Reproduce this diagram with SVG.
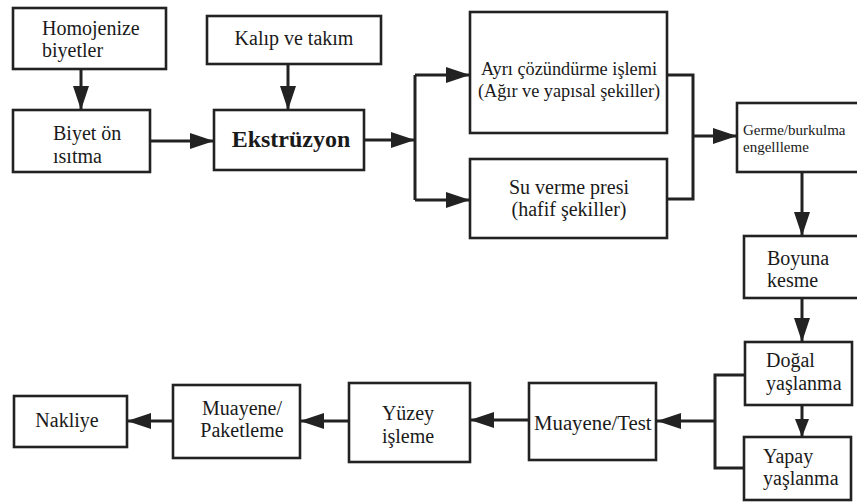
<svg xmlns="http://www.w3.org/2000/svg" width="857" height="502" viewBox="0 0 857 502">
  <style>
    .box { fill: #ffffff; stroke: #222222; stroke-width: 2.6; }
    .line { fill: none; stroke: #222222; stroke-width: 3; }
    .t { font-family: "Liberation Serif", "Times New Roman", serif; font-size: 20px; fill: #1a1a1a; }
    .c { text-anchor: middle; }
    .b { font-weight: bold; font-size: 24px; }
    .s { font-size: 15px; }
  </style>
  <defs>
    <marker id="arrow" viewBox="0 0 24 16" refX="24" refY="8" markerWidth="24" markerHeight="16" markerUnits="userSpaceOnUse" orient="auto">
      <path d="M0,0 L24,8 L0,16 Z" fill="#222222"/>
    </marker>
    <marker id="arrowSmall" viewBox="0 0 18 14" refX="18" refY="7" markerWidth="18" markerHeight="14" markerUnits="userSpaceOnUse" orient="auto">
      <path d="M0,0 L18,7 L0,14 Z" fill="#222222"/>
    </marker>
  </defs>

  <rect width="857" height="502" fill="#ffffff"/>

  <!-- connectors -->
  <g id="connectors">
    <line class="line" x1="81" y1="69" x2="81" y2="110" marker-end="url(#arrow)"/>
    <line class="line" x1="288" y1="64" x2="288" y2="110" marker-end="url(#arrow)"/>
    <line class="line" x1="150" y1="141" x2="214" y2="141" marker-end="url(#arrow)"/>
    <line class="line" x1="364" y1="140" x2="415" y2="140" marker-end="url(#arrow)"/>
    <line class="line" x1="415" y1="75" x2="415" y2="200"/>
    <line class="line" x1="415" y1="75" x2="470" y2="75" marker-end="url(#arrow)"/>
    <line class="line" x1="415" y1="200" x2="470" y2="200" marker-end="url(#arrow)"/>
    <polyline class="line" points="667,75 693,75 693,199 667,199"/>
    <line class="line" x1="693" y1="136" x2="737" y2="136" marker-end="url(#arrow)"/>
    <line class="line" x1="802" y1="173" x2="802" y2="236" marker-end="url(#arrow)"/>
    <line class="line" x1="802" y1="298" x2="802" y2="342" marker-end="url(#arrow)"/>
    <line class="line" x1="802" y1="405" x2="802" y2="437" marker-end="url(#arrowSmall)"/>
    <polyline class="line" points="745,375 715,375 715,468 744,468"/>
    <line class="line" x1="715" y1="421" x2="657" y2="421" marker-end="url(#arrow)"/>
    <line class="line" x1="529" y1="420" x2="470" y2="420" marker-end="url(#arrow)"/>
    <line class="line" x1="349" y1="421" x2="300" y2="421" marker-end="url(#arrow)"/>
    <line class="line" x1="173" y1="421" x2="127" y2="421" marker-end="url(#arrow)"/>
  </g>

  <!-- process steps -->
  <g id="homojenize">
    <rect class="box" x="13" y="8" width="153" height="61"/>
    <text class="t" x="42" y="35">Homojenize</text>
    <text class="t" x="42" y="57">biyetler</text>
  </g>
  <g id="kalip">
    <rect class="box" x="207" y="16" width="174" height="48"/>
    <text class="t c" x="294" y="45">Kalıp ve takım</text>
  </g>
  <g id="biyet-on-isitma">
    <rect class="box" x="13" y="110" width="137" height="62"/>
    <text class="t" x="53" y="140">Biyet ön</text>
    <text class="t" x="53" y="163">ısıtma</text>
  </g>
  <g id="ekstruzyon">
    <rect class="box" x="214" y="110" width="150" height="60"/>
    <text class="t c b" x="291" y="147">Ekstrüzyon</text>
  </g>
  <g id="ayri-cozundurme">
    <rect class="box" x="470" y="12" width="197" height="121"/>
    <text class="t c" x="569" y="75" style="font-size:18.3px">Ayrı çözündürme işlemi</text>
    <text class="t c" x="569" y="97" style="font-size:18.3px">(Ağır ve yapısal şekiller)</text>
  </g>
  <g id="su-verme">
    <rect class="box" x="470" y="159" width="197" height="79"/>
    <text class="t c" x="569" y="194">Su verme presi</text>
    <text class="t c" x="569" y="216">(hafif şekiller)</text>
  </g>
  <g id="germe">
    <rect class="box" x="737" y="103" width="124" height="69"/>
    <text class="t s" x="743" y="135">Germe/burkulma</text>
    <text class="t s" x="743" y="152">engellleme</text>
  </g>
  <g id="boyuna-kesme">
    <rect class="box" x="744" y="236" width="117" height="62"/>
    <text class="t" x="767" y="265">Boyuna</text>
    <text class="t" x="767" y="287">kesme</text>
  </g>
  <g id="dogal-yaslanma">
    <rect class="box" x="745" y="342" width="107" height="63"/>
    <text class="t" x="766" y="367">Doğal</text>
    <text class="t" x="766" y="390">yaşlanma</text>
  </g>
  <g id="yapay-yaslanma">
    <rect class="box" x="744" y="437" width="107" height="63"/>
    <text class="t" x="763" y="463">Yapay</text>
    <text class="t" x="763" y="485">yaşlanma</text>
  </g>
  <g id="muayene-test">
    <rect class="box" x="529" y="383" width="127" height="77"/>
    <text class="t" x="534" y="430" style="font-size:20.8px">Muayene/Test</text>
  </g>
  <g id="yuzey-isleme">
    <rect class="box" x="349" y="383" width="121" height="79"/>
    <text class="t c" x="408" y="420">Yüzey</text>
    <text class="t c" x="408" y="443">işleme</text>
  </g>
  <g id="muayene-paketleme">
    <rect class="box" x="173" y="385" width="127" height="73"/>
    <text class="t c" x="242" y="415">Muayene/</text>
    <text class="t c" x="242" y="437">Paketleme</text>
  </g>
  <g id="nakliye">
    <rect class="box" x="14" y="396" width="113" height="51"/>
    <text class="t c" x="67" y="427">Nakliye</text>
  </g>
</svg>
